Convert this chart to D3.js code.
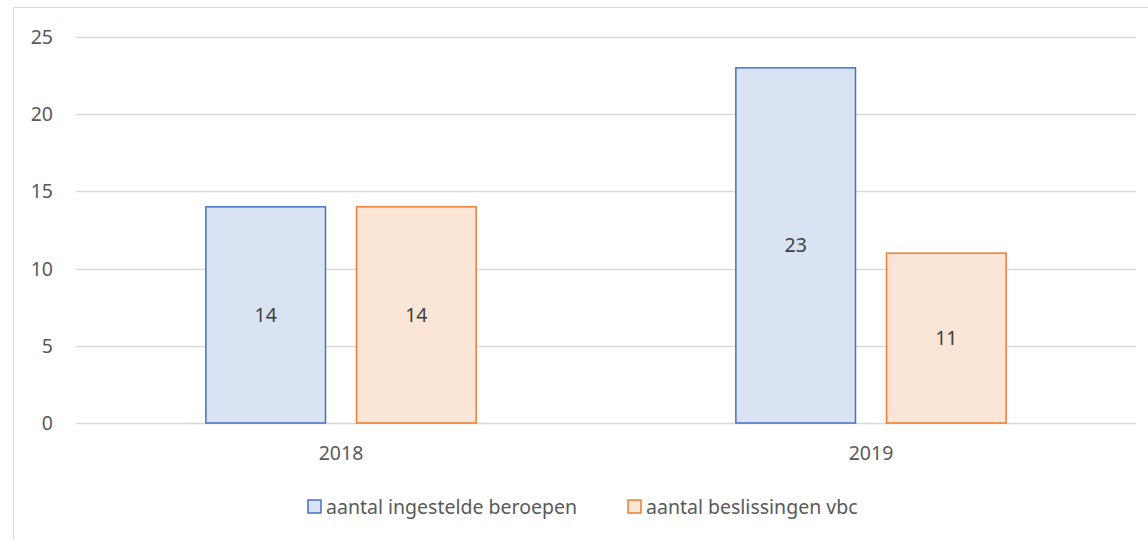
<!DOCTYPE html>
<html>
<head>
<meta charset="utf-8">
<script src="https://cdn.jsdelivr.net/npm/d3@7"></script>
<style>
 body {margin: 0; background: #fff;}
 svg {display: block; font-family: "Noto Sans", sans-serif;}
</style>
</head>
<body>
<div id="chart"></div>
<script>
var years = ["2018", "2019"];
var seriesNames = ["aantal ingestelde beroepen", "aantal beslissingen vbc"];
var ingesteld = [14, 23];
var beslissingen = [14, 11];
var yTicks = [0, 5, 10, 15, 20, 25];

var width = 1148, height = 540;
var colors = {stroke: ["#4472c4", "#ed7d31"], fill: ["#dae3f3", "#fbe5d6"]};
var fs = 19.5;

var svg = d3.select("#chart").append("svg").attr("width", width).attr("height", height);

// chart area border
svg.append("rect").attr("x", 13.5).attr("y", 7.5).attr("width", 1150).attr("height", 550)
   .attr("fill", "none").attr("stroke", "#d9d9d9");

var x0 = d3.scaleBand().domain(years).range([76, 1136]);
var x1 = d3.scaleBand().domain(d3.range(2)).range([x0.bandwidth() * 0.245, x0.bandwidth() * 0.755]).paddingInner(0.206);
var y = d3.scaleLinear().domain([0, 25]).range([423, 37]);

svg.append("g").selectAll("line").data(yTicks).join("line")
   .attr("x1", 76).attr("x2", 1136)
   .attr("y1", d => Math.round(y(d)) + 0.5).attr("y2", d => Math.round(y(d)) + 0.5)
   .attr("stroke", "#d9d9d9").attr("stroke-width", 1.3);

svg.append("g").selectAll("text").data(yTicks).join("text")
   .attr("x", 53).attr("y", d => y(d) + 7)
   .attr("text-anchor", "end").attr("fill", "#595959").attr("font-size", fs)
   .text(d => d);

var data = years.map((yr, i) => ({year: yr, vals: [ingesteld[i], beslissingen[i]]}));

var groups = svg.append("g").selectAll("g").data(data).join("g")
   .attr("transform", d => "translate(" + x0(d.year) + ",0)");

groups.selectAll("rect").data(d => d.vals.map((v, k) => ({v: v, k: k}))).join("rect")
   .attr("x", d => x1(d.k)).attr("width", x1.bandwidth())
   .attr("y", d => y(d.v)).attr("height", d => y(0) - y(d.v))
   .attr("fill", d => colors.fill[d.k]).attr("stroke", d => colors.stroke[d.k]).attr("stroke-width", 1.5);

groups.selectAll("text").data(d => d.vals.map((v, k) => ({v: v, k: k}))).join("text")
   .attr("x", d => x1(d.k) + x1.bandwidth() / 2).attr("y", d => (y(d.v) + y(0)) / 2 + 7)
   .attr("text-anchor", "middle").attr("fill", "#404040").attr("font-size", fs)
   .text(d => d.v);

svg.append("g").selectAll("text").data(years).join("text")
   .attr("x", d => x0(d) + x0.bandwidth() / 2).attr("y", 460)
   .attr("text-anchor", "middle").attr("fill", "#595959").attr("font-size", fs)
   .text(d => d);

// legend
var legendX = [307, 627];
var leg = svg.append("g").selectAll("g").data(seriesNames).join("g")
   .attr("transform", (d, i) => "translate(" + legendX[i] + ",499)");
leg.append("rect").attr("x", 1).attr("y", 1).attr("width", 13).attr("height", 13)
   .attr("fill", (d, i) => colors.fill[i]).attr("stroke", (d, i) => colors.stroke[i]).attr("stroke-width", 1.5);
leg.append("text").attr("x", 19).attr("y", 15).attr("fill", "#595959").attr("font-size", fs)
   .text(d => d);
</script>
</body>
</html>
